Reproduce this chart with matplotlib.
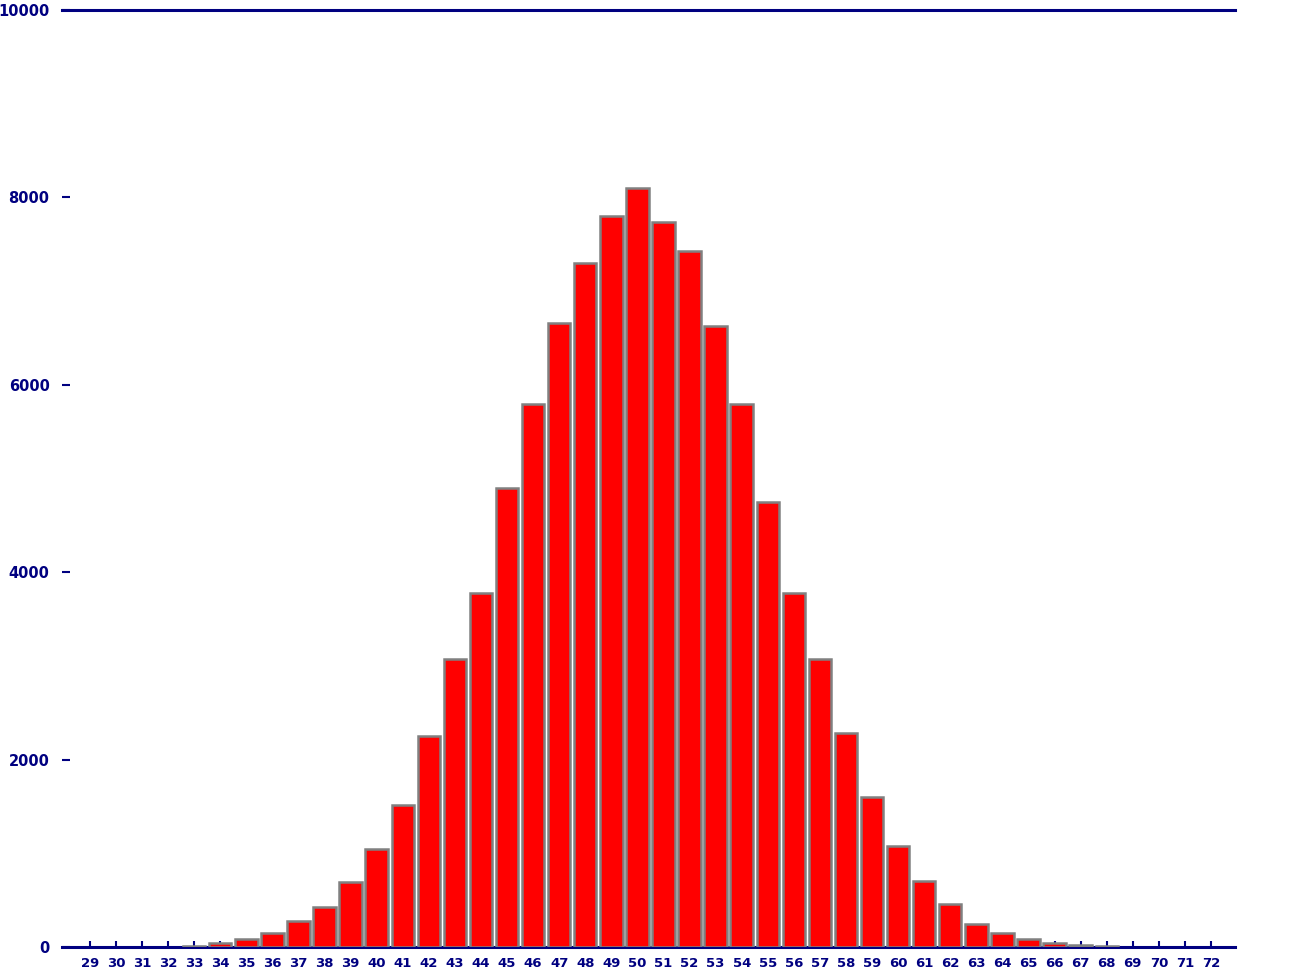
import matplotlib.pyplot as plt

# histogram values
categories = list(range(29, 73))
counts = [0, 0, 0, 0,
          10, 40, 85, 150, 280, 430, 690, 1045, 1515, 2250,
          3075, 3780, 4900, 5795, 6660, 7300, 7800, 8100, 7740, 7430,
          6630, 5795, 4750, 3780, 3075, 2285, 1600, 1080, 705, 460,
          245, 150, 85, 40, 20, 15,
          0, 0, 0, 0]
y_ticks = [0, 2000, 4000, 6000, 8000, 10000]

navy = "#000080"

fig = plt.figure(figsize=(12.99, 9.76), dpi=100)
ax = fig.add_axes([62 / 1299, 29 / 976, (1235 - 62) / 1299, (947 - 10) / 976])

xpos = range(len(categories))
edges = ["#808080" if c > 0 else "none" for c in counts]
ax.bar(xpos, counts, width=0.86, color="#ff0000", edgecolor=edges,
       linewidth=1.8, zorder=3)

ax.set_xlim(-1.07, len(categories) - 0.08)
ax.set_ylim(0, 10000)
ax.set_xticks(list(xpos))
ax.set_xticklabels([str(c) for c in categories])
ax.set_yticks(y_ticks)
ax.set_yticklabels([str(v) for v in y_ticks])

for side in ["left", "right"]:
    ax.spines[side].set_visible(False)
for side in ["top", "bottom"]:
    ax.spines[side].set_color(navy)
    ax.spines[side].set_linewidth(2.2)

ax.tick_params(axis="x", direction="in", length=4, width=1.5, color=navy,
               labelcolor=navy, labelsize=9.5, pad=7)
ax.tick_params(axis="y", direction="in", length=6, width=1.5, color=navy,
               labelcolor=navy, labelsize=10.5, pad=9)
for lab in ax.get_xticklabels() + ax.get_yticklabels():
    lab.set_fontweight("bold")

fig.savefig("out.png", dpi=100)
